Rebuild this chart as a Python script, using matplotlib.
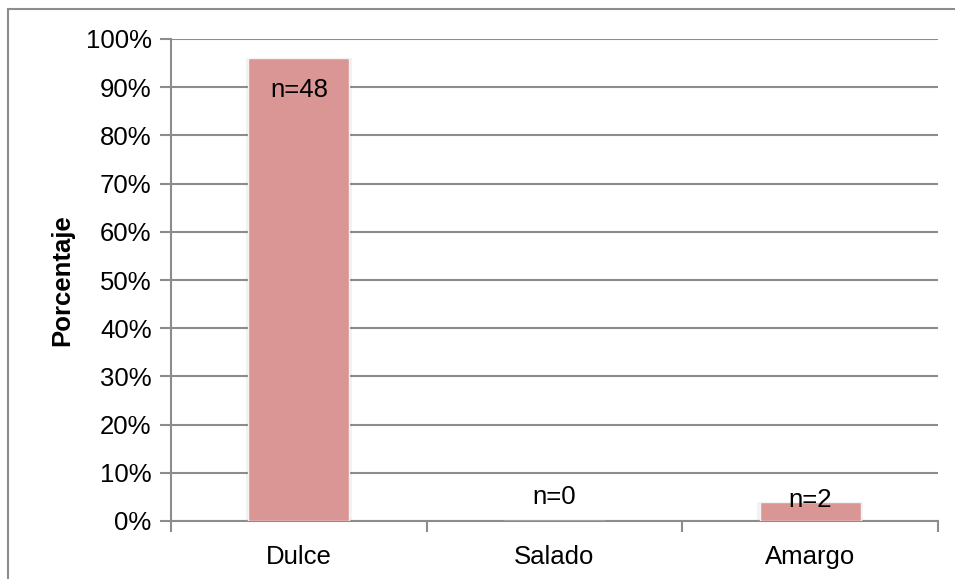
import matplotlib
matplotlib.use("Agg")
import matplotlib.pyplot as plt
from matplotlib.patches import Rectangle
from matplotlib.ticker import FuncFormatter, FixedLocator

categories = ["Dulce", "Salado", "Amargo"]
values = [96, 0, 4]
labels = ["n=48", "n=0", "n=2"]
label_y = [89.5, 5, 4.3]
yticks = list(range(0, 101, 10))

plt.rcParams['font.family'] = ['Liberation Sans', 'DejaVu Sans']

fig = plt.figure(figsize=(9.55, 5.79), dpi=100)
ax = fig.add_axes([171/955, 1-521/579, (938-171)/955, (521-39)/579])

grid_c = '#8C8C8C'
fs = 18.5
x = list(range(len(categories)))
# soft shadow
ax.bar(x, values, width=0.415, color='#000000', alpha=0.05, zorder=2)
ax.bar(x, values, width=0.395, color='#D99694', edgecolor='#F4F4F4', linewidth=1.0, zorder=3)

for xi, t, yv in zip(x, labels, label_y):
    ax.text(xi, yv, t, ha='center', va='center', fontsize=fs, color='black', zorder=4)

ax.set_xlim(-0.5, len(categories) - 0.5)
ax.set_ylim(0, 100)
ax.set_yticks(yticks)
ax.yaxis.set_major_formatter(FuncFormatter(lambda v, p: f"{int(v)}%"))
ax.yaxis.grid(True, color=grid_c, linewidth=1.5, zorder=1)
ax.set_axisbelow(True)

ax.set_xticks(x)
ax.set_xticklabels(categories)
ax.xaxis.set_minor_locator(FixedLocator([-0.5, 0.5, 1.5, 2.5]))
ax.tick_params(axis='x', which='major', length=0, pad=17, labelsize=fs)
ax.tick_params(axis='x', which='minor', length=8, width=1.5, color=grid_c, direction='out')
ax.tick_params(axis='y', length=8, width=1.5, color=grid_c, labelsize=fs, pad=6)

for s in ['top', 'right']:
    ax.spines[s].set_visible(False)
for s in ['left', 'bottom']:
    ax.spines[s].set_color(grid_c)
    ax.spines[s].set_linewidth(1.5)

ax.set_ylabel("Porcentaje", fontsize=fs, fontweight='bold', labelpad=8)

fig.add_artist(Rectangle((8/955, -0.1), 1.2, (579-9)/579 + 0.1, transform=fig.transFigure,
                         fill=False, edgecolor='#8C8C8C', linewidth=1.5))

fig.savefig("out.png", dpi=100, facecolor='white')
